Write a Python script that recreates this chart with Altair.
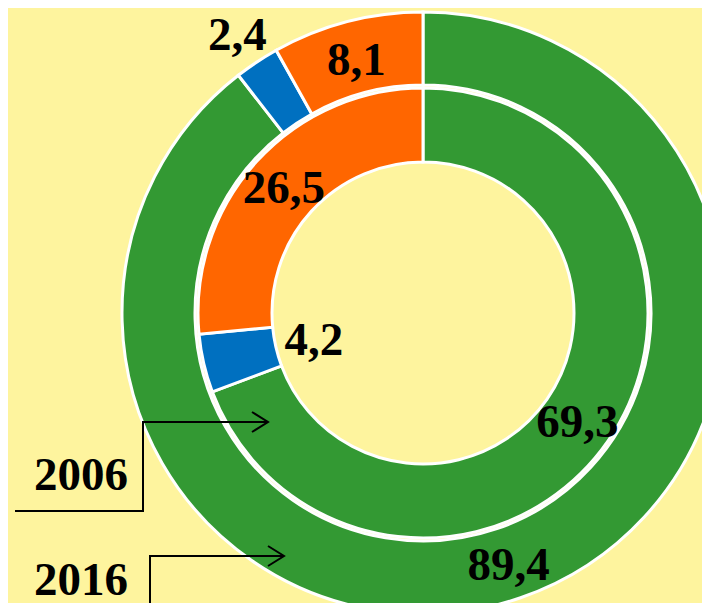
import altair as alt
import pandas as pd

# ---- data ----
categories = ["Group A", "Group B", "Group C"]
order_idx = [0, 1, 2]
values_2016 = [89.4, 2.4, 8.1]
values_2006 = [69.3, 4.2, 26.5]
year_labels = ["2006", "2016"]
colors = ["#339933", "#0070C0", "#FF6600"]


def ring_df(vals):
    return pd.DataFrame({
        "category": categories,
        "order": order_idx,
        "value": vals,
        "label": [f"{v:.1f}".replace(".", ",") for v in vals],
    })


df16 = ring_df(values_2016)
df06 = ring_df(values_2006)

# ---- layout (pixels) ----
W, H = 694, 595
CX, CY = 415, 305
BG = "#FEF49E"
FONT = "Liberation Serif"
FS = 47

# annotation geometry (connector lines with arrowheads)
conn = pd.DataFrame([
    # 2006 connector
    ("a", 0, 7, 503), ("a", 1, 135, 503), ("a", 2, 135, 414), ("a", 3, 260, 414),
    ("ah", 0, 244, 404), ("ah", 1, 260, 414), ("ah", 2, 244, 424),
    # 2016 connector
    ("b", 0, 142, 610), ("b", 1, 142, 548), ("b", 2, 276, 548),
    ("bh", 0, 260, 538), ("bh", 1, 276, 548), ("bh", 2, 260, 558),
], columns=["seg", "idx", "px", "py"])

year_pos = pd.DataFrame({"label": year_labels, "px": [73, 73], "py": [468, 573]})

color = alt.Color("category:N", scale=alt.Scale(domain=categories, range=colors), legend=None)
theta = alt.Theta("value:Q", stack="normalize")
order = alt.Order("order:Q")
cx = alt.value(CX)
cy = alt.value(CY)


def ring(df, r_out, r_in):
    return alt.Chart(df).mark_arc(
        radius=r_out, radius2=r_in, stroke="white", strokeWidth=3
    ).encode(theta=theta, color=color, order=order, x=cx, y=cy)


def labels(df, r, show_blue):
    test = (alt.datum.category == "Group B") if show_blue else (alt.datum.category != "Group B")
    return alt.Chart(df).mark_text(
        radius=r, font=FONT, fontWeight="bold", fontSize=FS, color="black", dy=3
    ).encode(
        theta=theta, order=order, text="label:N", x=cx, y=cy,
        opacity=alt.condition(test, alt.value(1), alt.value(0)),
    )


outer = ring(df16, 301, 228)
inner = ring(df06, 225, 151)

lab_outer = labels(df16, 264, False)
lab_outer_blue = labels(df16, 336, True)
lab_inner = labels(df06, 188, False)
lab_inner_blue = labels(df06, 112, True)

lines = alt.Chart(conn).mark_line(color="black", strokeWidth=2).encode(
    x=alt.X("px:Q", scale=None, axis=None),
    y=alt.Y("py:Q", scale=None, axis=None),
    detail="seg:N",
    order="idx:Q",
)

years = alt.Chart(year_pos).mark_text(
    font=FONT, fontWeight="bold", fontSize=FS, color="black"
).encode(
    x=alt.X("px:Q", scale=None, axis=None),
    y=alt.Y("py:Q", scale=None, axis=None),
    text="label:N",
)

chart = alt.layer(
    outer, inner, lab_outer, lab_outer_blue, lab_inner, lab_inner_blue, lines, years
).properties(
    width=W, height=H, padding=0, background=BG,
    autosize=alt.AutoSizeParams(type="none"),
).configure_view(stroke=None)

chart.save("out.html", embed_options={"renderer": "svg", "actions": False})
